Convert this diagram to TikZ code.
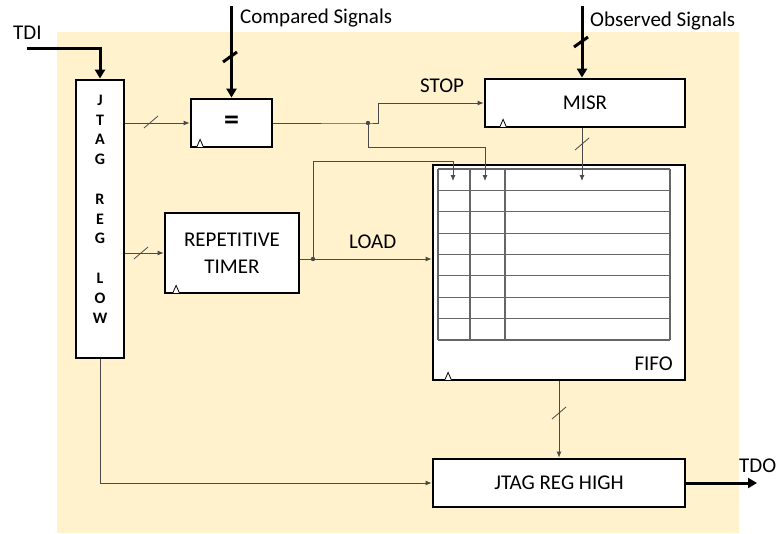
\documentclass[tikz,border=0pt]{standalone}
\usepackage{fontspec}
\setmainfont{Carlito}
\usetikzlibrary{arrows.meta, positioning, calc}
\definecolor{bgcream}{HTML}{FFF2CC}
\definecolor{wire}{HTML}{4A4A4A}
\tikzset{
  blk/.style 2 args={
    rectangle, draw=black, line width=2.8pt, fill=white,
    minimum width=#1pt, minimum height=#2pt, inner sep=0pt,
    align=center, font=\fontsize{21}{27}\selectfont
  },
  lowtxt/.style={inner sep=0pt, align=center, font=\fontsize{16}{19.8}\selectfont\bfseries},
  lbl/.style={inner sep=0pt, font=\fontsize{21}{25}\selectfont},
  arr/.style={draw=wire, line width=0.8pt, -{Latex[length=6pt,width=5pt]}},
  thickarr/.style={line width=3pt, -{Triangle[length=9pt,width=10pt]}},
  busmark/.style={draw=wire, line width=0.8pt},
  thickmark/.style={line width=3pt},
  clk/.style={draw=black, line width=0.8pt, fill=white},
  cell/.style={draw=black!60, line width=1.2pt}
}

\begin{document}
\begin{tikzpicture}[x=1pt, y=-1pt]

  \useasboundingbox (0,0) rectangle (776,533);
  \fill[bgcream] (57,32) rectangle (739,533);

  \node[blk={48}{278}] (jlow) at (100,219) {};
  \node[lowtxt] (jlowtxt) at (100,209) {J\\T\\A\\G\\[19.8pt]R\\E\\G\\[19.8pt]L\\O\\W};
  \node[blk={81}{48}, font=\fontsize{30}{30}\selectfont\bfseries] (eq) at (231.5,123) {=};
  \node[blk={200}{48}] (misr)  at (585,103)   {MISR};
  \node[blk={134}{80}] (timer) at (232,253)   {REPETITIVE\\TIMER};
  \node[blk={252}{215}] (fifo) at (559,272.5) {};
  \node[blk={252}{48}] (jhigh) at (559,483)   {JTAG REG HIGH};

  \foreach \r in {0,...,8}
    \draw[cell] (438,{169+21.375*\r}) -- (670,{169+21.375*\r});
  \foreach \c in {438,470,505,670}
    \draw[cell] (\c,169) -- (\c,340);
  \node[lbl, anchor=base east] (fifolbl) at (673,370) {FIFO};

  \draw[clk] ($(eq.south west)+(7,-1)$)    -- ++(3.5,-8) -- ++(3.5,8) -- cycle;
  \draw[clk] ($(misr.south west)+(16,-1)$) -- ++(3.5,-8) -- ++(3.5,8) -- cycle;
  \draw[clk] ($(timer.south west)+(9,-1)$) -- ++(3.5,-8) -- ++(3.5,8) -- cycle;
  \draw[clk] ($(fifo.south west)+(13,-1)$) -- ++(3.5,-8) -- ++(3.5,8) -- cycle;

  \node[lbl, anchor=base west] (tdi)  at (13,39)    {TDI};
  \node[lbl, anchor=base west] (cmp)  at (240,23.5) {Compared Signals};
  \node[lbl, anchor=base west] (obs)  at (590,26)   {Observed Signals};
  \node[lbl, anchor=base west] (stop) at (420,92.7) {STOP};
  \node[lbl, anchor=base west] (load) at (349,248)  {LOAD};
  \node[lbl, anchor=base west] (tdo)  at (739,472)  {TDO};

  \coordinate (tdiin)   at (27,48);
  \coordinate (cmpin)   at (231.5,6);
  \coordinate (obsin)   at (582,6);
  \coordinate (tdoout)  at (757,483);
  \coordinate (stopdot) at (368,123);
  \coordinate (loaddot) at (313,259);
  \coordinate (fifoa)   at (453,181);
  \coordinate (fifob)   at (485,181);
  \coordinate (fifoc)   at (582,181);

  \draw[thickarr] (tdiin) -| (jlow.north);
  \draw[thickarr] (cmpin) -- (eq.north);
  \draw[thickarr] (obsin) -- (obsin |- misr.north);
  \draw[thickarr] (jhigh.east) -- (tdoout);

  \draw[arr] (jlow.east |- eq.west) -- (eq.west);
  \draw[arr] (jlow.east |- timer.west) -- (timer.west);
  \draw[arr] (eq.east) -- (stopdot) -- ++(10,0) |- (misr.west);
  \draw[arr] (stopdot) -- ++(0,24) -| (fifob);
  \draw[arr] (timer.east |- loaddot) -- (fifo.west |- loaddot);
  \draw[arr] (loaddot) -- ++(0,-98) -| (fifoa);
  \draw[arr] (misr.south -| fifoc) -- (fifoc);
  \draw[arr] (fifo.south) -- (jhigh.north);
  \draw[arr] (jlow.south) |- (jhigh.west);

  \fill[wire] (stopdot) circle (2.2);
  \fill[wire] (loaddot) circle (2.2);

  \draw[busmark] (151,122) ++(-7,6) -- ++(14,-12);
  \draw[busmark] (141,253) ++(-7,6) -- ++(14,-12);
  \draw[busmark] (582,144) ++(-7,6) -- ++(14,-12);
  \draw[busmark] (559,413) ++(-7,6) -- ++(14,-12);
  \draw[thickmark] (230,57) ++(-7,5) -- ++(14,-10);
  \draw[thickmark] (581,42) ++(-7,5) -- ++(14,-10);

\end{tikzpicture}
\end{document}
